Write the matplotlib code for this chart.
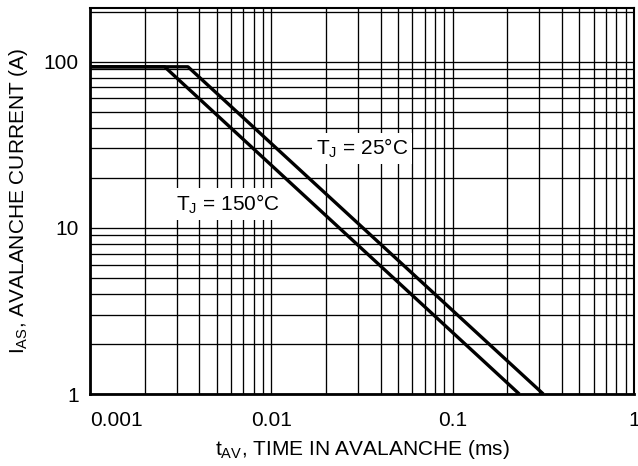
import matplotlib
matplotlib.use("Agg")
import matplotlib.pyplot as plt
from matplotlib.ticker import LogLocator, NullFormatter

plt.rcParams['font.family'] = ['Liberation Sans', 'DejaVu Sans']
plt.rcParams['mathtext.fontset'] = 'custom'
plt.rcParams['mathtext.rm'] = 'Liberation Sans'

# avalanche current vs time
t_25 = [0.001, 0.00347, 0.316]
i_25 = [93, 93, 1]
t_150 = [0.001, 0.00258, 0.233]
i_150 = [93, 93, 1]

x_ticks = [0.001, 0.01, 0.1, 1]
x_labels = ["0.001", "0.01", "0.1", "1"]
y_ticks = [1, 10, 100]
y_labels = ["1", "10", "100"]

fig = plt.figure(figsize=(6.38, 4.66), dpi=100)
ax = fig.add_axes([90 / 638, 1 - 394 / 466, 544 / 638, 386 / 466])

ax.set_xscale("log")
ax.set_yscale("log")
ax.set_xlim(0.001, 1)
ax.set_ylim(1, 210)

ax.plot(t_25, i_25, color="black", lw=2.4, solid_capstyle="butt", zorder=3)
ax.plot(t_150, i_150, color="black", lw=2.4, solid_capstyle="butt", zorder=3)

ax.xaxis.set_minor_locator(LogLocator(base=10, subs=range(2, 10)))
ax.yaxis.set_minor_locator(LogLocator(base=10, subs=range(2, 10)))
ax.xaxis.set_minor_formatter(NullFormatter())
ax.yaxis.set_minor_formatter(NullFormatter())
ax.grid(True, which="both", color="black", lw=0.95)

fs = 15
ax.set_xticks(x_ticks, x_labels)
ax.set_yticks(y_ticks, y_labels)
ax.tick_params(which="both", length=0, labelsize=fs, colors="black")
ax.tick_params(axis="x", pad=12)
ax.tick_params(axis="y", pad=8)
ax.get_xticklabels()[0].set_horizontalalignment("left")

for side in ax.spines.values():
    side.set_linewidth(1.5)
    side.set_color("black")
ax.spines["left"].set_linewidth(2)
ax.spines["bottom"].set_linewidth(2)

ax.text(0.0316, 30, r"$\mathregular{T_J}$ = 25°C", fontsize=fs, ha="center", va="center",
        bbox=dict(facecolor="white", edgecolor="none", pad=3), zorder=4)
ax.text(0.00575, 13.9, r"$\mathregular{T_J}$ = 150°C", fontsize=fs, ha="center", va="center",
        bbox=dict(facecolor="white", edgecolor="none", pad=3), zorder=4)

ax.set_xlabel(r"$\mathregular{t_{AV}}$, TIME IN AVALANCHE (ms)", fontsize=fs, labelpad=6)
ax.set_ylabel(r"$\mathregular{I_{AS}}$, AVALANCHE CURRENT (A)", fontsize=fs, labelpad=10)

fig.savefig("out.png", dpi=100)
